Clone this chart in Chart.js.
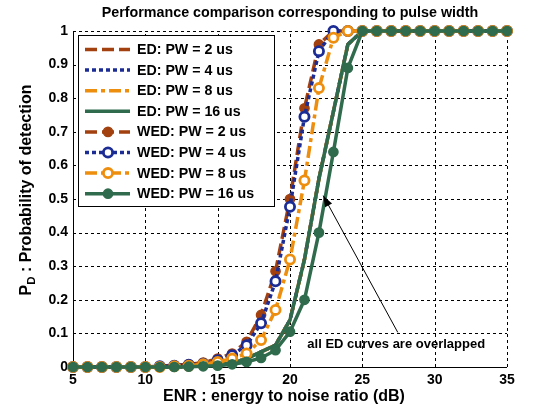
<!DOCTYPE html>
<html><head><meta charset="utf-8">
<script src="https://cdn.jsdelivr.net/npm/chart.js@4.4.0/dist/chart.umd.min.js"></script>
<style>html,body{margin:0;padding:0;background:#fff;}</style>
</head><body>
<canvas id="c" width="560" height="413" style="width:560px;height:413px;display:block"></canvas>
<script>
// ---- data ----
const enr = [5,6,7,8,9,10,11,12,13,14,15,16,17,18,19,20,21,22,23,24,25,26,27,28,29,30,31,32,33,34,35];
// ED curves (all pulse widths overlap)
const ed2  = [0,0,0,0,0,0,0,0,0.002,0.004,0.007,0.012,0.025,0.045,0.065,0.14,0.32,0.56,0.76,0.96,1,1,1,1,1,1,1,1,1,1,1];
const ed4  = [0,0,0,0,0,0,0,0,0.002,0.004,0.007,0.012,0.025,0.045,0.065,0.14,0.32,0.56,0.76,0.96,1,1,1,1,1,1,1,1,1,1,1];
const ed8  = [0,0,0,0,0,0,0,0,0.002,0.004,0.007,0.012,0.025,0.045,0.065,0.14,0.32,0.56,0.76,0.96,1,1,1,1,1,1,1,1,1,1,1];
const ed16 = [0,0,0,0,0,0,0,0,0.002,0.004,0.007,0.012,0.025,0.045,0.065,0.14,0.32,0.56,0.76,0.96,1,1,1,1,1,1,1,1,1,1,1];
// WED curves
const wed2  = [0,0,0,0,0,0,0.002,0.005,0.008,0.013,0.025,0.04,0.075,0.155,0.285,0.50,0.77,0.96,1,1,1,1,1,1,1,1,1,1,1,1,1];
const wed4  = [0,0,0,0,0,0,0.002,0.004,0.007,0.01,0.02,0.035,0.065,0.13,0.255,0.477,0.745,0.94,1,1,1,1,1,1,1,1,1,1,1,1,1];
const wed8  = [0,0,0,0,0,0,0,0.002,0.004,0.008,0.015,0.025,0.04,0.08,0.17,0.32,0.555,0.83,0.98,1,1,1,1,1,1,1,1,1,1,1,1];
const wed16 = [0,0,0,0,0,0,0,0,0.001,0.002,0.004,0.008,0.015,0.027,0.05,0.105,0.2,0.40,0.64,0.89,1,1,1,1,1,1,1,1,1,1,1];
const seriesLabels = ['ED: PW = 2 us','ED: PW = 4 us','ED: PW = 8 us','ED: PW = 16 us',
                      'WED: PW = 2 us','WED: PW = 4 us','WED: PW = 8 us','WED: PW = 16 us'];
const xTicks = [5,10,15,20,25,30,35];
const yTicks = [0,0.1,0.2,0.3,0.4,0.5,0.6,0.7,0.8,0.9,1];
const titleText = 'Performance comparison corresponding to pulse width';
const xTitle = 'ENR : energy to noise ratio (dB)';
const annotText = 'all ED curves are overlapped';

// ---- styles ----
const BROWN='#A2410F', BLUE='#1C2C95', ORANGE='#EE8E0E', GREEN='#2F6B4C';
const FONT='"Liberation Sans", Arial, sans-serif';
const LW=3.5;
const styles = [
  {c:BROWN, dash:[12,5]}, {c:BLUE, dash:[4,3]}, {c:ORANGE, dash:[12,4,4,4]}, {c:GREEN, dash:[]},
  {c:BROWN, dash:[12,5], m:'fill'}, {c:BLUE, dash:[4,3], m:'open'}, {c:ORANGE, dash:[12,4,4,4], m:'open'}, {c:GREEN, dash:[], m:'fill'}
];
const allY = [ed2,ed4,ed8,ed16,wed2,wed4,wed8,wed16];
const MR=4.6;

const datasets = allY.map((ys,i)=>{
  const s=styles[i];
  return {
    label: seriesLabels[i],
    data: enr.map((x,k)=>({x:x,y:ys[k]})),
    borderColor: s.c, borderWidth: LW, borderDash: s.dash, borderCapStyle:'butt',
    pointRadius: s.m?MR:0, pointHoverRadius: s.m?MR:0,
    pointBackgroundColor: s.m==='open'?'#ffffff':s.c,
    pointBorderColor: s.c, pointBorderWidth: s.m==='open'?2.8:1.5,
    fill:false, tension:0, clip:false, order: 8-i, _m: s.m
  };
});

const decor = {
  id:'decor',
  beforeDraw(chart){
    const ctx=chart.ctx; ctx.save(); ctx.fillStyle='#fff'; ctx.fillRect(0,0,chart.width,chart.height); ctx.restore();
  },
  beforeDatasetsDraw(chart){
    const ctx=chart.ctx, a=chart.chartArea, xs=chart.scales.x, ys=chart.scales.y;
    ctx.save();
    ctx.strokeStyle='#000'; ctx.lineWidth=1; ctx.setLineDash([3,3]);
    xTicks.forEach(v=>{ const p=Math.round(xs.getPixelForValue(v))+0.5;
      ctx.beginPath(); ctx.moveTo(p,a.bottom); ctx.lineTo(p,a.top); ctx.stroke(); });
    yTicks.forEach(v=>{ const p=Math.round(ys.getPixelForValue(v))+0.5;
      ctx.beginPath(); ctx.moveTo(a.left,p); ctx.lineTo(a.right,p); ctx.stroke(); });
    ctx.setLineDash([]);
    ctx.beginPath(); ctx.moveTo(Math.round(a.left)+0.5,a.top); ctx.lineTo(Math.round(a.left)+0.5,Math.round(a.bottom)+0.5);
    ctx.lineTo(a.right,Math.round(a.bottom)+0.5); ctx.stroke();
    ctx.restore();
  },
  afterDraw(chart){
    const ctx=chart.ctx, a=chart.chartArea, xs=chart.scales.x, ys=chart.scales.y;
    ctx.save();
    // title
    ctx.fillStyle='#000'; ctx.textAlign='center'; ctx.textBaseline='middle';
    ctx.font='bold 14.3px '+FONT;
    ctx.fillText(titleText,(a.left+a.right)/2,13);
    // x title
    ctx.font='bold 16px '+FONT;
    ctx.fillText(xTitle,284,397);
    // y title with subscript
    ctx.save();
    ctx.translate(27,190);
    ctx.rotate(-Math.PI/2);
    const F1='bold 16px '+FONT, F2='bold 11.5px '+FONT;
    ctx.font=F1;
    const p1='P', sub='D', rest=' : Probability of detection';
    const w1=ctx.measureText(p1).width, w3=ctx.measureText(rest).width;
    ctx.font=F2; const w2=ctx.measureText(sub).width;
    const tot=w1+w2+w3; let x=-tot/2;
    ctx.textAlign='left'; ctx.font=F1; ctx.fillText(p1,x,0); x+=w1;
    ctx.font=F2; ctx.fillText(sub,x,5); x+=w2;
    ctx.font=F1; ctx.fillText(rest,x,0);
    ctx.restore();
    // annotation arrow
    const tx=xs.getPixelForValue(22.3), ty=ys.getPixelForValue(0.51);
    const fx=xs.getPixelForValue(27.45), fy=ys.getPixelForValue(0.103);
    ctx.strokeStyle='#000'; ctx.lineWidth=1;
    ctx.beginPath(); ctx.moveTo(fx,fy); ctx.lineTo(tx,ty); ctx.stroke();
    const ang=Math.atan2(ty-fy,tx-fx), L=11, W=4;
    ctx.beginPath(); ctx.moveTo(tx,ty);
    ctx.lineTo(tx-L*Math.cos(ang)+W*Math.sin(ang), ty-L*Math.sin(ang)-W*Math.cos(ang));
    ctx.lineTo(tx-L*Math.cos(ang)-W*Math.sin(ang), ty-L*Math.sin(ang)+W*Math.cos(ang));
    ctx.closePath(); ctx.fillStyle='#000'; ctx.fill();
    ctx.font='bold 13px '+FONT; ctx.textAlign='left'; ctx.textBaseline='middle';
    ctx.fillText(annotText, xs.getPixelForValue(21.2), ys.getPixelForValue(0.066));
    // legend
    const lx=78, ly=35, lw=196, lh=171;
    ctx.fillStyle='#fff'; ctx.fillRect(lx,ly,lw,lh);
    ctx.strokeStyle='#000'; ctx.lineWidth=1; ctx.strokeRect(lx+0.5,ly+0.5,lw,lh);
    chart.data.datasets.forEach((ds,i)=>{
      const cy=49.5+i*20.6;
      ctx.strokeStyle=ds.borderColor; ctx.lineWidth=LW; ctx.setLineDash(ds.borderDash); ctx.lineCap='butt';
      ctx.beginPath(); ctx.moveTo(85,cy); ctx.lineTo(130,cy); ctx.stroke();
      ctx.setLineDash([]);
      if(ds._m){
        ctx.beginPath(); ctx.arc(108,cy,MR,0,Math.PI*2);
        ctx.fillStyle=ds.pointBackgroundColor; ctx.fill();
        ctx.lineWidth=ds.pointBorderWidth; ctx.strokeStyle=ds.pointBorderColor; ctx.stroke();
      }
      ctx.fillStyle='#000'; ctx.font='bold 14.2px '+FONT; ctx.textAlign='left'; ctx.textBaseline='middle';
      ctx.fillText(ds.label,137,cy+0.5);
    });
    ctx.restore();
  }
};

new Chart(document.getElementById('c'),{
  type:'line',
  data:{datasets:datasets},
  options:{
    responsive:false, animation:false, devicePixelRatio:1,
    layout:{padding:{top:31,right:53,left:0,bottom:0}},
    plugins:{legend:{display:false},title:{display:false},tooltip:{enabled:false}},
    scales:{
      x:{type:'linear',min:5,max:35,
        afterFit(s){s.height=46;},
        afterBuildTicks(s){s.ticks=xTicks.map(v=>({value:v}));},
        ticks:{color:'#000',font:{family:FONT,size:14,weight:'bold'},padding:5,maxRotation:0},
        grid:{display:false,drawTicks:false,tickLength:0},
        border:{display:false}
      },
      y:{type:'linear',min:0,max:1,
        afterFit(s){s.width=73;},
        afterBuildTicks(s){s.ticks=yTicks.map(v=>({value:v}));},
        ticks:{color:'#000',font:{family:FONT,size:14,weight:'bold'},padding:5,
          callback:v=>(v===0?'0':v===1?'1':v.toFixed(1))},
        grid:{display:false,drawTicks:false,tickLength:0},
        border:{display:false}
      }
    }
  },
  plugins:[decor]
});
</script>
</body></html>
